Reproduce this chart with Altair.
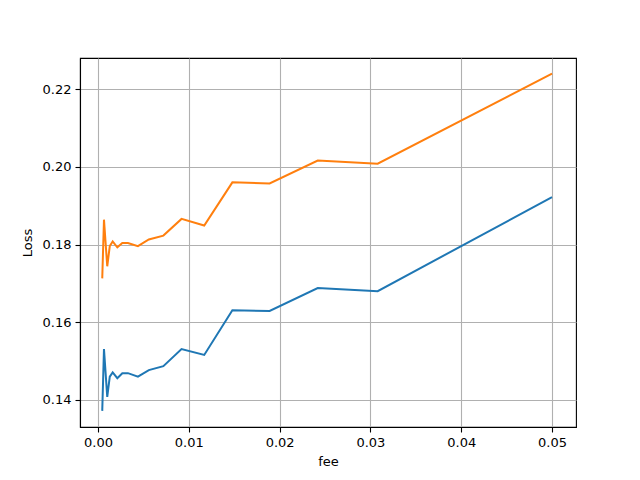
import altair as alt
import pandas as pd

fee = [0.00047, 0.00066, 0.00102, 0.0013, 0.00162, 0.00213, 0.00268, 0.0033,
       0.0044, 0.0056, 0.0072, 0.0092, 0.0117, 0.0148, 0.0189, 0.0242, 0.0308, 0.05]
loss_blue = [0.1372, 0.1531, 0.1408, 0.1460, 0.1471, 0.1456, 0.1469, 0.1469,
             0.1460, 0.1477, 0.1487, 0.1531, 0.1516, 0.1631, 0.1629, 0.1688, 0.1680, 0.1922]
loss_orange = [0.1713, 0.1864, 0.1744, 0.1796, 0.1808, 0.1793, 0.1804, 0.1804,
               0.1796, 0.1813, 0.1823, 0.1866, 0.1849, 0.1960, 0.1957, 0.2016, 0.2008, 0.2240]
series_names = ["s1", "s2"]
colors = ["#1f77b4", "#ff7f0e"]
x_ticks = [0.0, 0.01, 0.02, 0.03, 0.04, 0.05]
y_ticks = [0.14, 0.16, 0.18, 0.20, 0.22]

rows = []
for i, f in enumerate(fee):
    rows.append({"fee": f, "loss": loss_blue[i], "series": series_names[0], "order": i})
    rows.append({"fee": f, "loss": loss_orange[i], "series": series_names[1], "order": i})
df = pd.DataFrame(rows)

chart = alt.Chart(df).mark_line(strokeWidth=2, clip=True).encode(
    x=alt.X("fee:Q", title="fee",
            scale=alt.Scale(domain=[-0.00198, 0.05264], nice=False, zero=False),
            axis=alt.Axis(values=x_ticks, format=".2f")),
    y=alt.Y("loss:Q", title="Loss",
            scale=alt.Scale(domain=[0.13305, 0.228], nice=False, zero=False),
            axis=alt.Axis(values=y_ticks, format=".2f")),
    color=alt.Color("series:N", scale=alt.Scale(domain=series_names, range=colors), legend=None),
    order="order:Q",
).properties(
    width=496, height=369,
    autosize=alt.AutoSizeParams(type="none"),
    padding={"left": 72, "top": 50, "right": 56, "bottom": 45},
).configure_view(
    stroke="black", strokeWidth=1.1
).configure_axis(
    grid=True, gridColor="#b0b0b0", gridWidth=1.1, gridOpacity=1,
    domain=True, domainColor="black", domainWidth=1.1,
    ticks=True, tickColor="black", tickSize=5, tickWidth=1.1,
    labelFont="DejaVu Sans", labelFontSize=13, labelColor="black", labelPadding=4,
    titleFont="DejaVu Sans", titleFontSize=13, titleFontWeight="normal", titleColor="black",
).configure_axisX(titlePadding=6).configure_axisY(titlePadding=8)

chart.save("out.html", embed_options={"renderer": "svg", "actions": False})
